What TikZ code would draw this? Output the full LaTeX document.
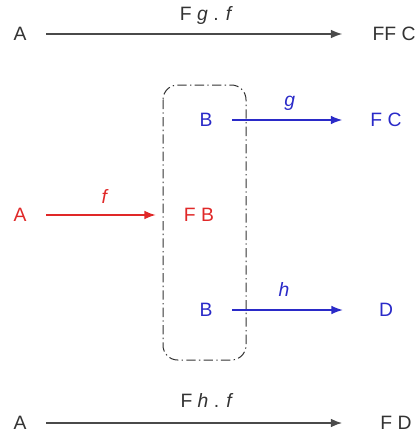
\documentclass[tikz,border=0pt]{standalone}
\usepackage{fontspec}
\setmainfont{Liberation Sans}
\usetikzlibrary{arrows.meta}
\definecolor{objgray}{HTML}{333333}
\definecolor{mapgray}{HTML}{4A4A4A}
\definecolor{mapred}{HTML}{E02828}
\definecolor{mapblue}{HTML}{2A2AC8}

\begin{document}
\begin{tikzpicture}[x=0.75pt, y=-0.75pt,
    obj/.style={inner sep=0pt, font=\fontsize{14.5}{17}\selectfont},
    lbl/.style={inner sep=0pt, anchor=base, yshift=10pt, font=\fontsize{14.5}{17}\selectfont},
    map/.style={-{Latex[length=8.5pt, width=6.5pt]}, line width=1.1pt, shorten <=14.5pt, shorten >=21pt},
    grp/.style={draw=objgray, line width=0.75pt, rounded corners=11pt,
      dash pattern=on 7pt off 2.5pt on 1pt off 2.5pt}]
  \useasboundingbox (0,0) rectangle (420,435);

  % the grouping box round F B
  \draw[grp] (163,85) rectangle (246,360);

  % composite on top
  \node[obj, text=objgray] (a1) at (20,34) {A};
  \node[obj, text=objgray] (ffc) at (394,34) {FF C};
  \draw[map, draw=mapgray, shorten >=22.5pt] (a1) -- (ffc)
    node[lbl, pos=0.52, text=objgray] (lfg) {F \textit{g} . \textit{f}};

  % f : A -> F B
  \node[obj, text=mapred] (a2) at (20,215) {A};
  \node[obj, text=mapred] (fb) at (199,215) {F B};
  \draw[map, draw=mapred] (a2) -- (fb)
    node[lbl, pos=0.5, yshift=-1pt, text=mapred] (lf) {\textit{f}};

  % g and h out of B
  \node[obj, text=mapblue] (b1) at (206,120) {B};
  \node[obj, text=mapblue] (fc) at (386,120) {F C};
  \draw[map, draw=mapblue, line width=0.9pt] (b1) -- (fc)
    node[lbl, pos=0.49, yshift=0.5pt, text=mapblue] (lg) {\textit{g}};

  \node[obj, text=mapblue] (b2) at (206,310) {B};
  \node[obj, text=mapblue] (d) at (386,310) {D};
  \draw[map, draw=mapblue, line width=0.9pt, shorten >=27pt] (b2) -- (d)
    node[lbl, pos=0.43, text=mapblue] (lh) {\textit{h}};

  % composite at the bottom
  \node[obj, text=objgray] (a3) at (20,423) {A};
  \node[obj, text=objgray] (fd) at (396,423) {F D};
  \draw[map, draw=mapgray, shorten >=28.5pt] (a3) -- (fd)
    node[lbl, pos=0.51, yshift=2pt, text=objgray] (lhf) {F \textit{h} . \textit{f}};
\end{tikzpicture}
\end{document}
